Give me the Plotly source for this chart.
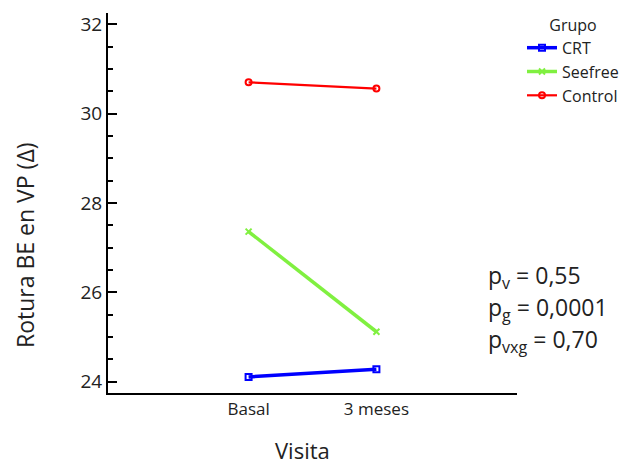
import plotly.graph_objects as go

visitas = ["Basal", "3 meses"]
crt = [24.11, 24.28]
seefree = [27.36, 25.12]
control = [30.70, 30.56]
grupos = ["CRT", "Seefree", "Control"]
colores = ["#0000ff", "#80f040", "#ff0000"]
simbolos = ["square-open", "x-thin-open", "circle-open"]
anchos = [3.5, 3.5, 2.2]
y_ticks = [24, 26, 28, 30, 32]
pvals = ["p<sub>v</sub> = 0,55", "p<sub>g</sub> = 0,0001", "p<sub>vxg</sub> = 0,70"]

FONT = "Open Sans"
# page body has an 8px margin; figure sized so the page matches 629x464
W, H = 621, 456
L, R, T, B = 100, 112, 5, 71
PW, PH = W - L - R, H - T - B
OFF = 8


def px(xp):
    return (xp - OFF - L) / PW


def py(yp):
    return (H - B - (yp - OFF)) / PH


fig = go.Figure()
for name, vals, col, sym, w in zip(grupos, [crt, seefree, control], colores, simbolos, anchos):
    fig.add_trace(go.Scatter(
        x=visitas, y=vals, name=name, mode="lines+markers",
        line=dict(color=col, width=w),
        marker=dict(symbol=sym, size=6, color=col, line=dict(color=col, width=2)),
    ))

fig.update_layout(
    width=W, height=H,
    margin=dict(l=L, r=R, t=T, b=B, autoexpand=False),
    plot_bgcolor="white", paper_bgcolor="white",
    font=dict(family=FONT, color="#222"),
    showlegend=True,
    legend=dict(
        x=px(522), y=py(10), xanchor="left", yanchor="top",
        title=dict(text="Grupo", side="top center", font=dict(size=16, family=FONT)),
        font=dict(size=16, family=FONT),
        itemwidth=30, tracegroupgap=0, bgcolor="rgba(0,0,0,0)",
    ),
    xaxis=dict(
        type="category", range=[-1.1, 2.1],
        showline=True, linecolor="black", linewidth=2, mirror=False,
        ticks="", showgrid=False, zeroline=False,
        tickfont=dict(size=17, family=FONT),
    ),
    yaxis=dict(
        range=[23.75, 32.25], tickvals=y_ticks,
        showline=True, linecolor="black", linewidth=2,
        ticks="inside", ticklen=9, tickwidth=2, tickcolor="black",
        minor=dict(dtick=0.5, ticks="inside", ticklen=5, tickwidth=2, tickcolor="black"),
        showgrid=False, zeroline=False,
        tickfont=dict(size=19, family=FONT),
    ),
)

fig.add_annotation(text="Rotura BE en VP (Δ)", xref="paper", yref="paper",
                   x=px(25), y=py(245), textangle=-90,
                   showarrow=False, font=dict(size=23, family=FONT),
                   xanchor="center", yanchor="middle")
fig.add_annotation(text="Visita", xref="paper", yref="paper",
                   x=px(302), y=py(450),
                   showarrow=False, font=dict(size=22, family=FONT),
                   xanchor="center", yanchor="middle")
for i, t in enumerate(pvals):
    fig.add_annotation(text=t, xref="paper", yref="paper",
                       x=px(486), y=py(276 + 32 * i),
                       showarrow=False, font=dict(size=23, family=FONT),
                       xanchor="left", yanchor="middle")

fig.write_html("out.html")
